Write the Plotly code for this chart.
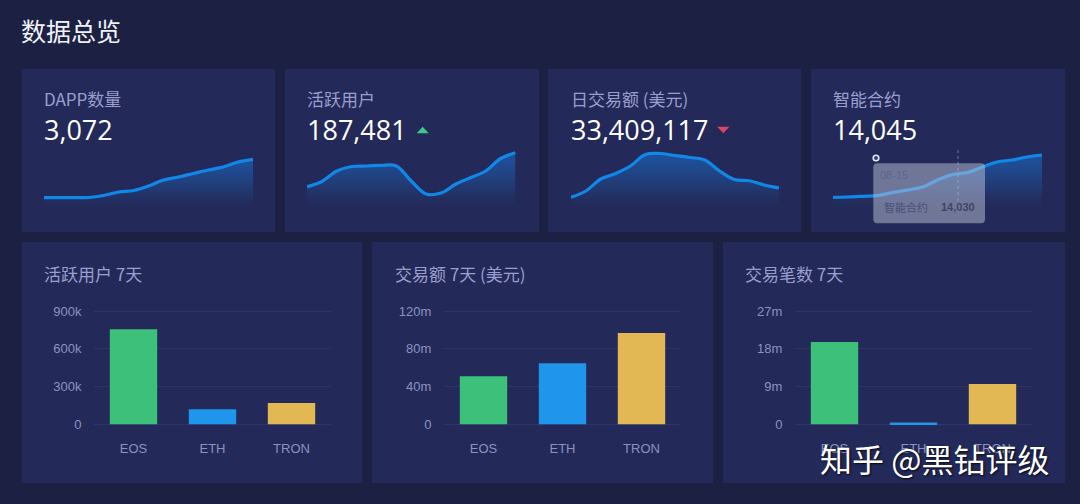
import plotly.graph_objects as go

W, H = 1080, 504
BG = "#1c2042"
CARD = "#232958"
MUTED = "#9a9fd0"
TICK = "#8d92c2"
CJK = "Noto Sans CJK SC"
NUM = "Open Sans, Noto Sans CJK SC"
ARIAL = "Liberation Sans"

# sparkline data (relative level of each daily sample)
spark_titles = ["DAPP数量", "活跃用户", "日交易额 (美元)", "智能合约"]
spark_totals = ["3,072", "187,481", "33,409,117", "14,045"]
spark_days = list(range(15))
dapp_levels = [12.3, 12.3, 12.3, 12.5, 14.5, 18, 19.5, 24, 30, 33, 36.5, 40, 43, 48, 50.7]
user_levels = [23.3, 28.5, 39, 43.5, 44, 44.7, 44, 29, 16, 17, 26, 32.5, 39, 51.5, 57.3]
volume_levels = [12.7, 19, 31, 36.5, 44, 55.5, 56.5, 54.5, 52.5, 50, 39, 30.5, 29.3, 25, 22]
contract_levels = [12.7, 13, 13.7, 14.5, 17.5, 20, 23, 30, 35.5, 37.5, 43, 48, 50, 53, 55]

# bar data
bar_titles = ["活跃用户 7天", "交易额 7天 (美元)", "交易笔数 7天"]
chains = ["EOS", "ETH", "TRON"]
chain_colors = ["#3cc07a", "#2095ec", "#e2b855"]
active_users = [755000, 120000, 170000]
volume_usd = [51e6, 64.6e6, 96.7e6]
tx_count = [19.6e6, 0.4e6, 9.6e6]
active_ticks = [0, 300000, 600000, 900000]
active_labels = ["0", "300k", "600k", "900k"]
volume_ticks = [0, 40e6, 80e6, 120e6]
volume_labels = ["0", "40m", "80m", "120m"]
tx_ticks = [0, 9e6, 18e6, 27e6]
tx_labels = ["0", "9m", "18m", "27m"]

px = lambda x: x / W
py = lambda y: 1 - y / H

fig = go.Figure()
shapes, notes = [], []


def text(x, y, s, size, color, font=CJK, anchor="left", **kw):
    notes.append(dict(xref="paper", yref="paper", x=px(x), y=py(y), text=s, showarrow=False,
                      xanchor=anchor, yanchor="middle", borderpad=0, borderwidth=0,
                      font=dict(size=size, color=color, family=font, **kw)))


def card(x0, y0, x1, y1):
    shapes.append(dict(type="rect", xref="paper", yref="paper", layer="below",
                       x0=px(x0), x1=px(x1), y0=py(y0), y1=py(y1),
                       fillcolor=CARD, line_width=0))


layout_axes = {}
text(21, 30, "数据总览", 25, "#f2f3fa")

# sparkline cards
spark_cards = [(22, 275, 44, 253), (285, 539, 307, 515.5), (548, 801, 571, 779), (811, 1065, 833, 1042)]
spark_series = [dapp_levels, user_levels, volume_levels, contract_levels]
for i, ((c0, c1, d0, d1), vals, title, total) in enumerate(zip(spark_cards, spark_series, spark_titles, spark_totals), 1):
    card(c0, 69, c1, 232)
    text(d0, 99, title, 17, MUTED)
    text(d0, 129, total, 27, "#ffffff", font=NUM)
    fig.add_trace(go.Scatter(
        x=spark_days, y=vals, xaxis=f"x{i}", yaxis=f"y{i}", mode="lines",
        line=dict(color="#1187e8", width=3.2, shape="spline", smoothing=1.0),
        fill="tozeroy",
        fillgradient=dict(type="vertical",
                          colorscale=[[0, "rgba(30,130,225,0)"], [0.2, "rgba(30,125,220,0.06)"],
                                      [1, "rgba(24,110,205,0.6)"]]),
        hoverinfo="skip", showlegend=False))
    layout_axes[f"xaxis{i}"] = dict(domain=[px(d0), px(d1)], range=[0, 14], visible=False,
                                    fixedrange=True, automargin=False)
    layout_axes[f"yaxis{i}"] = dict(domain=[py(210), py(150)], range=[0, 60], visible=False,
                                    fixedrange=True, automargin=False)

# bar cards
bar_cards = [(22, 362, 94, 331, 44), (372, 713, 444, 681, 395), (723, 1065, 795, 1032, 745)]
bar_series = [active_users, volume_usd, tx_count]
bar_ticks = [active_ticks, volume_ticks, tx_ticks]
bar_labels = [active_labels, volume_labels, tx_labels]
for j, ((c0, c1, d0, d1, tx), vals, ticks, labs, title) in enumerate(zip(bar_cards, bar_series, bar_ticks, bar_labels, bar_titles), 5):
    card(c0, 242, c1, 483)
    text(tx, 273, title, 17, MUTED)
    fig.add_trace(go.Bar(x=chains, y=vals, xaxis=f"x{j}", yaxis=f"y{j}", width=0.6,
                         marker=dict(color=chain_colors, line_width=0),
                         hoverinfo="skip", showlegend=False))
    pad = ticks[-1] * 0.01
    layout_axes[f"xaxis{j}"] = dict(
        domain=[px(d0), px(d1)], anchor=f"y{j}", showgrid=False, showline=False, zeroline=False,
        ticks="outside", ticklen=11, tickcolor="rgba(0,0,0,0)", automargin=False,
        tickfont=dict(size=13, color=TICK, family=ARIAL), fixedrange=True)
    layout_axes[f"yaxis{j}"] = dict(
        domain=[py(425.4), py(309.9)], anchor=f"x{j}", range=[-pad, ticks[-1] + pad],
        tickvals=ticks, ticktext=labs, showline=False, zeroline=False,
        gridcolor="rgba(120,130,200,0.13)", gridwidth=1, automargin=False,
        ticks="outside", ticklen=9, tickcolor="rgba(0,0,0,0)",
        tickfont=dict(size=13, color=TICK, family=ARIAL), fixedrange=True)

# trend markers
shapes.append(dict(type="path", xref="paper", yref="paper", line_width=0, fillcolor="#3cc98a",
                   path=f"M {px(416.7)} {py(133.3)} L {px(428.7)} {py(133.3)} L {px(422.7)} {py(126.7)} Z"))
shapes.append(dict(type="path", xref="paper", yref="paper", line_width=0, fillcolor="#e0455f",
                   path=f"M {px(717.3)} {py(126.7)} L {px(729.4)} {py(126.7)} L {px(723.3)} {py(133.3)} Z"))

# hover crosshair and tooltip on the contract card
shapes.append(dict(type="line", xref="paper", yref="paper", x0=px(958), x1=px(958), y0=py(150), y1=py(212),
                   line=dict(color="rgba(190,195,225,0.5)", width=1, dash="dot")))
tx0, tx1, ty0, ty1, r = 873.3, 985, 163.3, 223.3, 4
shapes.append(dict(type="path", xref="paper", yref="paper", layer="above", line_width=0,
                   fillcolor="rgba(190,195,215,0.5)",
                   path=(f"M {px(tx0 + r)} {py(ty0)} L {px(tx1 - r)} {py(ty0)} Q {px(tx1)} {py(ty0)} {px(tx1)} {py(ty0 + r)} "
                         f"L {px(tx1)} {py(ty1 - r)} Q {px(tx1)} {py(ty1)} {px(tx1 - r)} {py(ty1)} "
                         f"L {px(tx0 + r)} {py(ty1)} Q {px(tx0)} {py(ty1)} {px(tx0)} {py(ty1 - r)} "
                         f"L {px(tx0)} {py(ty0 + r)} Q {px(tx0)} {py(ty0)} {px(tx0 + r)} {py(ty0)} Z")))
shapes.append(dict(type="circle", xref="paper", yref="paper", layer="above",
                   x0=px(873.2), x1=px(878.8), y0=py(160.8), y1=py(155.2),
                   fillcolor="#2a3f8a", line=dict(color="#e8ebf8", width=1.6)))
text(880, 175, "08-15", 11, "#5f6488", font=ARIAL)
text(884, 207, "智能合约", 11, "#4a4f75")
text(941, 207, "<b>14,030</b>", 11, "#3f4468", font=ARIAL)

# watermark
text(820, 458, "知乎 @黑钻评级", 32, "#ffffff", shadow="1px 1px 2px rgba(0,0,0,0.8)")

fig.update_layout(width=W, height=H, autosize=False, margin=dict(l=0, r=0, t=0, b=0, pad=0, autoexpand=False),
                  paper_bgcolor=BG, plot_bgcolor="rgba(0,0,0,0)", showlegend=False,
                  bargap=0.4, shapes=shapes, annotations=notes, **layout_axes)

fig.write_html("out.html", config={"displayModeBar": False},
               post_script=f"document.body.style.margin='0';document.body.style.overflow='hidden';document.body.style.background='{BG}';")
